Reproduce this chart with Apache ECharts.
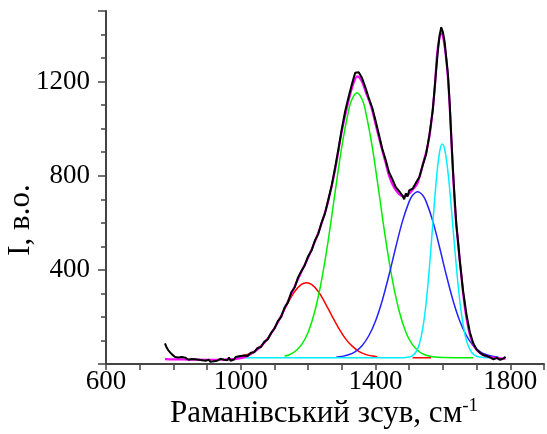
<!DOCTYPE html>
<html><head><meta charset="utf-8">
<script src="https://cdn.jsdelivr.net/npm/echarts@6/dist/echarts.min.js"></script>
<style>html,body{margin:0;padding:0;background:#fff}#c{width:547px;height:434px}</style>
</head><body><div id="c"></div>
<script>
const xTickLabels = [600, 1000, 1400, 1800];
const yTickLabels = [400, 800, 1200];

// experimental spectrum (black)
const measured = [[775,88],[780,70],[785,58],[790,50],[795,42],[800,36],[805,30],[810,34],[815,28],[820,25],[825,30],[830,22],[835,27],[840,24],[845,18],[850,26],[855,21],[860,15],[865,20],[870,12],[875,18],[880,10],[885,16],[890,8],[895,14],[900,11],[905,18],[910,9],[915,15],[920,12],[925,20],[930,14],[935,10],[940,22],[945,30],[950,18],[955,25],[960,16],[965,28],[970,14],[975,22],[980,19],[985,30],[990,24],[995,33],[1000,28],[1010,36],[1020,34],[1030,48],[1040,50],[1050,68],[1060,72],[1070,95],[1080,104],[1090,132],[1100,150],[1110,182],[1120,200],[1130,240],[1140,262],[1150,305],[1160,325],[1170,368],[1180,395],[1190,420],[1200,458],[1210,482],[1220,525],[1230,552],[1240,602],[1250,640],[1260,700],[1270,760],[1280,835],[1290,915],[1300,1000],[1310,1075],[1320,1135],[1330,1190],[1335,1215],[1340,1238],[1345,1245],[1350,1240],[1355,1232],[1360,1215],[1370,1175],[1380,1130],[1390,1090],[1400,1035],[1410,975],[1420,915],[1430,868],[1440,815],[1450,785],[1460,752],[1470,735],[1480,715],[1485,700],[1490,725],[1495,712],[1500,738],[1510,745],[1520,770],[1530,795],[1540,845],[1550,890],[1560,975],[1570,1080],[1580,1250],[1585,1330],[1590,1395],[1595,1431],[1600,1410],[1605,1370],[1610,1300],[1615,1230],[1620,1110],[1625,960],[1630,820],[1635,700],[1640,590],[1645,520],[1650,440],[1660,310],[1670,210],[1680,135],[1690,88],[1700,62],[1710,48],[1720,38],[1730,34],[1740,28],[1750,20],[1760,26],[1770,18],[1780,24],[1786,30]];

// fitted envelope (magenta)
const envelope = [[775,21],[800,20],[850,19],[900,18],[950,19],[980,21],[1000,25],[1020,34],[1040,52],[1060,75],[1080,108],[1100,152],[1120,204],[1140,266],[1160,330],[1180,392],[1200,452],[1220,520],[1240,598],[1260,695],[1280,825],[1300,990],[1320,1120],[1335,1195],[1346,1222],[1358,1205],[1370,1160],[1387,1094],[1400,1020],[1417,924],[1430,855],[1441,796],[1455,750],[1470,722],[1483,713],[1495,718],[1510,740],[1525,770],[1544,867],[1555,930],[1564,1009],[1575,1160],[1583,1320],[1590,1390],[1595,1405],[1600,1392],[1606,1340],[1613,1250],[1620,1100],[1627,895],[1637,640],[1647,484],[1655,370],[1662,275],[1670,195],[1681,120],[1695,70],[1711,45],[1730,32],[1750,27],[1770,24],[1786,23]];

// component bands
const bandRed = [[1000,34],[1020,41],[1040,54],[1060,77],[1080,109],[1100,154],[1120,206],[1140,260],[1160,308],[1180,338],[1195,345],[1210,338],[1230,308],[1250,260],[1270,206],[1290,154],[1310,109],[1330,77],[1350,54],[1370,41],[1390,34],[1405,31]];
const bandRedTail = [[1510,27],[1565,27]];
const bandGreen = [[1130,34],[1140,37],[1160,52],[1180,81],[1200,135],[1220,225],[1240,357],[1260,530],[1280,730],[1300,925],[1320,1077],[1330,1125],[1345,1153],[1360,1125],[1370,1077],[1390,925],[1410,730],[1430,530],[1450,357],[1470,225],[1490,135],[1510,81],[1530,52],[1550,37],[1570,31],[1600,28],[1690,27]];
const bandBlue = [[1283,29],[1300,32],[1320,39],[1340,53],[1360,78],[1380,120],[1400,183],[1420,270],[1440,378],[1460,496],[1480,607],[1500,691],[1510,717],[1525,732],[1540,717],[1550,691],[1570,607],[1590,496],[1610,378],[1630,270],[1650,183],[1670,120],[1690,78],[1710,53],[1730,39],[1750,32],[1765,29]];
const bandCyan = [[990,27],[1480,27],[1500,30],[1510,36],[1520,51],[1530,85],[1540,150],[1550,258],[1560,412],[1570,597],[1580,776],[1590,901],[1598,935],[1606,907],[1616,802],[1626,646],[1636,476],[1646,322],[1656,203],[1666,122],[1676,74],[1686,48],[1700,33],[1720,28],[1760,27]];

const FONT = '"Liberation Serif", "Times New Roman", serif';
const chart = echarts.init(document.getElementById('c'), null, {renderer: 'canvas'});
const axisLine = {show: true, onZero: false, lineStyle: {color: '#444', width: 2}};
function line(data, color, width, z, smooth) {
  return {type: 'line', data: data, smooth: smooth, showSymbol: false, symbol: 'none',
    lineStyle: {color: color, width: width}, z: z, silent: true, xAxisIndex: 0, yAxisIndex: 0};
}
chart.setOption({
  animation: false,
  backgroundColor: '#fff',
  grid: {left: 106, right: 0, top: 11, bottom: 70},
  xAxis: [{
    type: 'value', min: 600, max: 1900, interval: 100,
    axisLine: axisLine,
    axisTick: {length: 6, lineStyle: {color: '#444', width: 1.5}},
    splitLine: {show: false},
    axisLabel: {margin: 4, color: '#000', fontFamily: FONT, fontSize: 27,
      formatter: v => xTickLabels.includes(v) ? String(v) : ''}
  }],
  yAxis: [{
    type: 'value', min: 0, max: 1500, interval: 100,
    axisLine: axisLine,
    axisTick: {length: 5, lineStyle: {color: '#444', width: 1.5}},
    splitLine: {show: false},
    axisLabel: {show: false}
  }, {
    type: 'value', min: 0, max: 1500, interval: 400, position: 'left', offset: 0,
    axisLine: {show: false},
    axisTick: {length: 8, lineStyle: {color: '#444', width: 1.5}},
    splitLine: {show: false},
    axisLabel: {margin: 16, color: '#000', fontFamily: FONT, fontSize: 27,
      formatter: v => yTickLabels.includes(v) ? String(v) : ''}
  }],
  graphic: [{
    type: 'text', x: 324, y: 414,
    style: {
      text: '{a|Раманівський зсув, см}{b|-1}',
      align: 'center', verticalAlign: 'middle',
      rich: {
        a: {fontFamily: FONT, fontSize: 31, fill: '#000', lineHeight: 34},
        b: {fontFamily: FONT, fontSize: 19, fill: '#000', verticalAlign: 'top', lineHeight: 20}
      }
    }
  }, {
    type: 'text', x: 21, y: 220, rotation: Math.PI / 2,
    style: {text: 'I, в.о.', fontFamily: FONT, fontSize: 31, fill: '#000', align: 'center', verticalAlign: 'middle'}
  }],
  series: [
    line(bandRed, '#ff0000', 1.5, 2, 0.35),
    line(bandRedTail, '#ff0000', 1.5, 2, false),
    line(bandGreen, '#00ee00', 1.5, 3, 0.35),
    line(bandBlue, '#2222ff', 1.5, 4, 0.35),
    line(bandCyan, '#00eeff', 1.5, 5, 0.35),
    line(envelope, '#ff00ff', 2.2, 6, 0.35),
    line(measured, '#000000', 2, 7, false)
  ]
});
</script></body></html>
